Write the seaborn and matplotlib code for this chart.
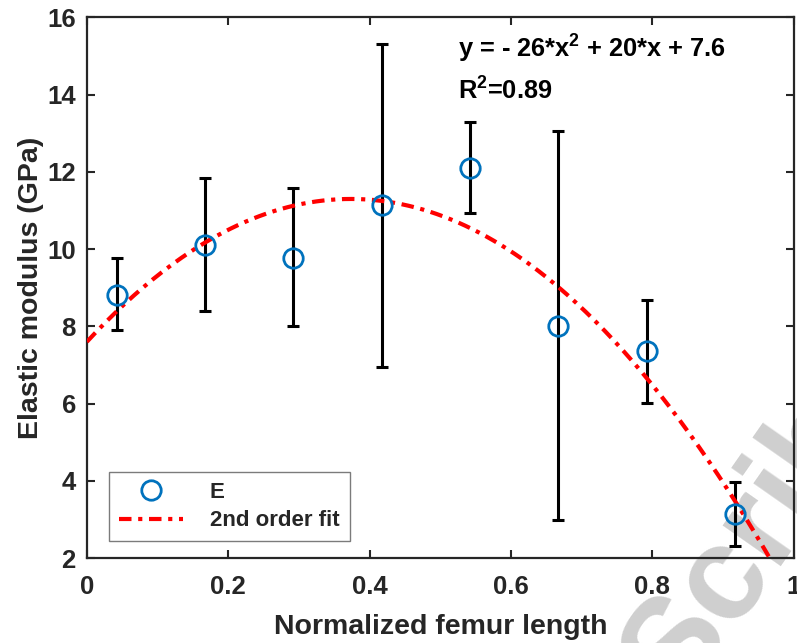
import numpy as np
import matplotlib
matplotlib.use("Agg")
import matplotlib.pyplot as plt
import pandas as pd
import seaborn as sns

# values
femur_pos = [0.042, 0.167, 0.292, 0.417, 0.542, 0.667, 0.792, 0.917]
modulus = [8.80, 10.11, 9.78, 11.13, 12.11, 8.01, 7.36, 3.13]
err_low = [7.90, 8.40, 8.00, 6.94, 10.93, 2.98, 6.02, 2.32]
err_high = [9.78, 11.85, 11.59, 15.32, 13.29, 13.07, 8.68, 3.96]
fit_coef = [-26.5, 19.8, 7.6]  # quadratic drawn in the figure

x_ticks = [0, 0.2, 0.4, 0.6, 0.8, 1]
x_ticklabels = ["0", "0.2", "0.4", "0.6", "0.8", "1"]
y_ticks = [2, 4, 6, 8, 10, 12, 14, 16]

sns.set_theme(style="ticks")
plt.rcParams["font.family"] = ["Liberation Sans", "DejaVu Sans"]
plt.rcParams["font.weight"] = "bold"
plt.rcParams["mathtext.fontset"] = "custom"
plt.rcParams["mathtext.rm"] = "Liberation Sans:bold"
plt.rcParams["mathtext.bf"] = "Liberation Sans:bold"
plt.rcParams["mathtext.default"] = "bf"

df = pd.DataFrame({"pos": femur_pos, "E": modulus,
                   "lo": err_low, "hi": err_high})
xs = np.linspace(0, 1, 300)
fit_df = pd.DataFrame({"pos": xs, "fit": np.polyval(fit_coef, xs)})

fig = plt.figure(figsize=(7.97, 6.43), dpi=100)
ax = fig.add_axes([0.109, 0.132, 0.887, 0.841])
ax.set_zorder(2)
ax.patch.set_alpha(0)

ax.errorbar(df["pos"], df["E"],
            yerr=[df["E"] - df["lo"], df["hi"] - df["E"]],
            fmt="none", ecolor="black", elinewidth=2.2, capsize=4.5,
            capthick=2.2, zorder=2)
sns.lineplot(data=fit_df, x="pos", y="fit", ax=ax, color="#ff0000",
             linewidth=3, label="2nd order fit", zorder=3)
ax.lines[-1].set_dashes([3, 1.6, 1, 1.6])
ax.plot(df["pos"], df["E"], linestyle="none", marker="o", markersize=14,
        markerfacecolor="none", markeredgecolor="#0072bd",
        markeredgewidth=2, label="E", zorder=4)

ax.set_xlim(0, 1)
ax.set_ylim(2, 16)
ax.set_xticks(x_ticks)
ax.set_xticklabels(x_ticklabels)
ax.set_yticks(y_ticks)
ax.tick_params(direction="in", length=6, width=1.5, top=True, right=True,
               labelsize=18.5, labelcolor="#262626")
ax.tick_params(axis="x", pad=12)
ax.tick_params(axis="y", pad=8)
for sp in ax.spines.values():
    sp.set_linewidth(1.6)
    sp.set_color("#262626")
ax.set_xlabel("Normalized femur length", fontsize=20.5, fontweight="bold",
              color="#262626", labelpad=11)
ax.set_ylabel("Elastic modulus (GPa)", fontsize=20.5, fontweight="bold",
              color="#262626", labelpad=2)

ax.text(0.525, 0.925, r"y = - 26*x$^2$ + 20*x + 7.6", transform=ax.transAxes,
        fontsize=18.3, fontweight="bold", color="black")
ax.text(0.525, 0.848, r"R$^2$=0.89", transform=ax.transAxes,
        fontsize=18.3, fontweight="bold", color="black")

handles, labels = ax.get_legend_handles_labels()
order = [labels.index("E"), labels.index("2nd order fit")]
leg = ax.legend([handles[i] for i in order], [labels[i] for i in order],
                loc="lower left", bbox_to_anchor=(0.031, 0.031),
                borderaxespad=0, fancybox=False, frameon=True,
                fontsize=16, handlelength=2.9, handletextpad=1.2,
                labelspacing=0.35, borderpad=0.45)
leg.get_frame().set_edgecolor("#5a5a5a")
leg.get_frame().set_linewidth(1.0)
for t in leg.get_texts():
    t.set_fontweight("bold")

fig.text(0.755, -0.075, "Scrib", rotation=55, fontsize=96, fontweight="bold",
         color="#cfcfcf", zorder=0)

fig.savefig("out.png", dpi=100)
